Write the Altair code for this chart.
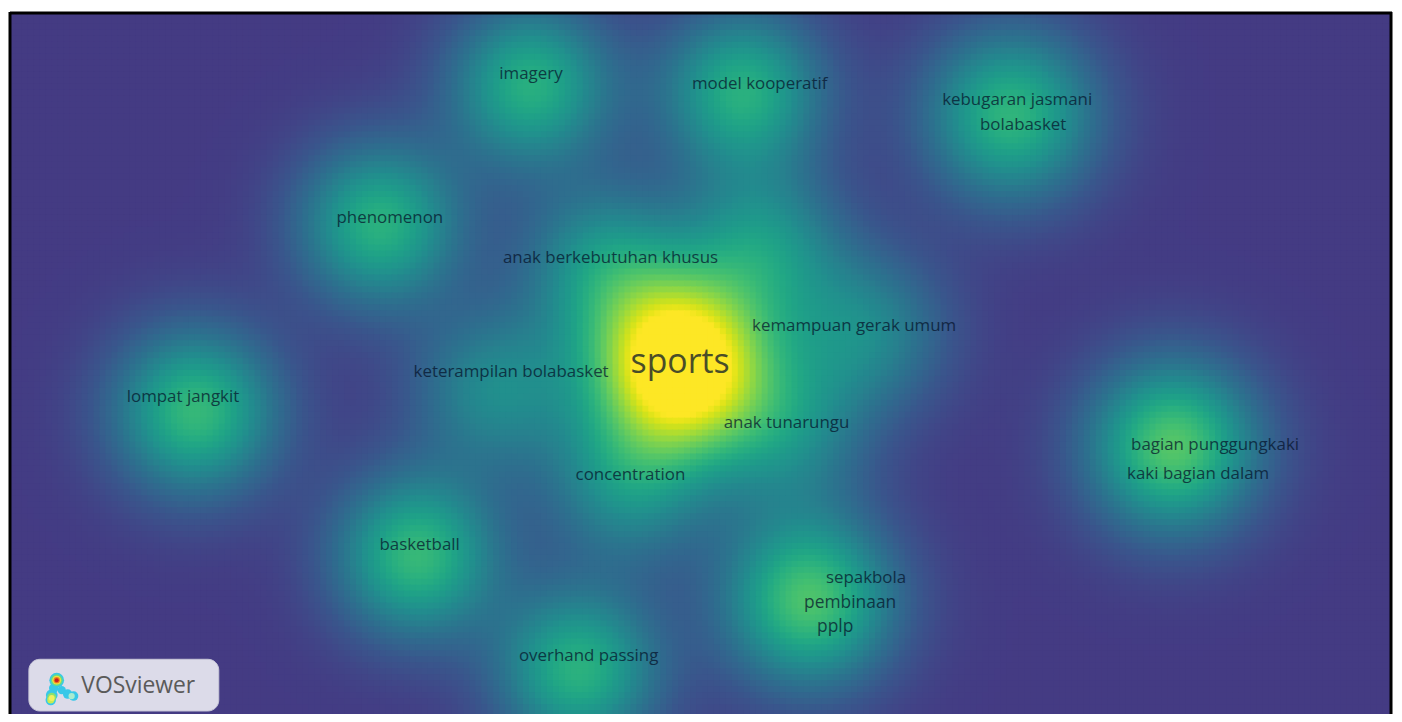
import numpy as np
import pandas as pd
import altair as alt

# ---- keyword labels (text centres) ----
labels = ["imagery", "model kooperatif", "kebugaran jasmani", "bolabasket", "phenomenon",
          "anak berkebutuhan khusus", "kemampuan gerak umum", "sports", "keterampilan bolabasket",
          "lompat jangkit", "anak tunarungu", "bagian punggungkaki", "kaki bagian dalam",
          "concentration", "basketball", "sepakbola", "pembinaan", "pplp", "overhand passing"]
label_x = [532, 762, 1021, 1027, 390, 612, 857, 682, 512, 182, 789, 1220, 1203, 632, 420, 869, 853, 838, 590]
label_y = [70, 80, 97, 122, 215, 255, 324, 361, 370, 395, 421, 444, 473, 474, 544, 577, 602, 627, 656]
label_size = [17, 17, 17, 17, 17, 17, 17, 34, 17, 17, 17, 17, 17, 17, 17, 17, 17.5, 17.5, 17]

# ---- density kernels (blob centres, weights and widths) ----
dens_x = [532, 745, 1015, 380, 605, 765, 870, 682, 495, 195, 790, 1178, 630, 417, 812, 580]
dens_y = [82, 88, 112, 222, 262, 245, 330, 363, 388, 410, 430, 445, 482, 555, 600, 670]
dens_w = [0.55, 0.55, 0.58, 0.56, 0.4, 0.4, 0.34, 1.15, 0.36, 0.6, 0.32, 0.68, 0.38, 0.6, 0.66, 0.56]
dens_s = [57, 57, 60, 57, 57, 57, 57, 62, 57, 58, 57, 60, 57, 57, 60, 57]
CELL = 6

# ---- VOSviewer logo parts ----
logo_text = ["VOSviewer"]
icon_x = [55, 52, 50, 49, 60, 66, 72, 55, 50, 49, 70, 55, 50, 55, 55]
icon_y = [680, 688, 695, 700, 690, 694, 696, 680, 697, 700, 696, 680, 698, 680, 680]
icon_size = [220, 90, 140, 110, 70, 90, 90, 140, 80, 50, 40, 80, 35, 40, 16]
icon_color = ["#38c8e8", "#38c8e8", "#38c8e8", "#38c8e8", "#38c8e8", "#38c8e8", "#38c8e8",
              "#66dd88", "#88e070", "#c8ec50", "#a8ecd0", "#f0e040", "#f0f060", "#f08020", "#c81e24"]

X0, X1, Y0, Y1 = 8, 1398, 8, 714

gx = np.arange(X0, X1, CELL, dtype=float)
gy = np.arange(Y0, Y1, CELL, dtype=float)
GX, GY = np.meshgrid(gx + CELL / 2, gy + CELL / 2)
D = np.zeros_like(GX)
for px, py, w, s in zip(dens_x, dens_y, dens_w, dens_s):
    D += w * np.exp(-((GX - px) ** 2 + (GY - py) ** 2) / (2 * s ** 2))
D = np.clip(D, 0, 1)
grid = pd.DataFrame({
    "x0": (GX - CELL / 2).ravel(),
    "x1": (GX + CELL / 2 + 1).ravel(),
    "y0": (GY - CELL / 2).ravel(),
    "y1": (GY + CELL / 2 + 1).ravel(),
    "v": np.round(D.ravel(), 3),
})

xs = alt.Scale(domain=[X0, X1], nice=False, zero=False)
ys = alt.Scale(domain=[Y0, Y1], nice=False, zero=False, reverse=True)

heat = alt.Chart(grid).mark_rect(strokeWidth=0, clip=True).encode(
    x=alt.X("x0:Q", scale=xs, axis=None),
    x2="x1:Q",
    y=alt.Y("y0:Q", scale=ys, axis=None),
    y2="y1:Q",
    color=alt.Color("v:Q", legend=None,
                    scale=alt.Scale(scheme=alt.SchemeParams(name="viridis", extent=[0.17, 1.0]),
                                    domain=[0, 1], clamp=True)),
)

lab_df = pd.DataFrame({"label": labels, "x": label_x, "y": label_y, "s": label_size})
text = alt.Chart(lab_df).mark_text(font="Open Sans", color="#05122a", opacity=0.72,
                                   align="center", baseline="middle").encode(
    x=alt.X("x:Q", scale=xs, axis=None),
    y=alt.Y("y:Q", scale=ys, axis=None),
    text="label:N",
    size=alt.Size("s:Q", scale=None, legend=None),
)

logo_box = alt.Chart(pd.DataFrame({"a": [27], "b": [218], "c": [659], "d": [711]})).mark_rect(
    fill="#dcdbe9", cornerRadius=11, stroke="#c8c7d8", strokeWidth=1).encode(
    x=alt.X("a:Q", scale=xs, axis=None), x2="b:Q",
    y=alt.Y("c:Q", scale=ys, axis=None), y2="d:Q",
)
logo_lbl = alt.Chart(pd.DataFrame({"t": logo_text, "x": [137], "y": [686]})).mark_text(
    font="Open Sans", fontSize=23, color="#5a5a5a", align="center", baseline="middle").encode(
    x=alt.X("x:Q", scale=xs, axis=None), y=alt.Y("y:Q", scale=ys, axis=None), text="t:N")
icon = alt.Chart(pd.DataFrame({"x": icon_x, "y": icon_y, "s": icon_size, "c": icon_color,
                               "o": list(range(len(icon_x)))})).mark_circle(opacity=1).encode(
    x=alt.X("x:Q", scale=xs, axis=None), y=alt.Y("y:Q", scale=ys, axis=None),
    size=alt.Size("s:Q", scale=None, legend=None),
    color=alt.Color("c:N", scale=None, legend=None),
    order=alt.Order("o:Q"),
)

border_top = alt.Chart(pd.DataFrame({"k": [0]})).mark_rule(color="#000000", strokeWidth=3).encode(
    x=alt.value(0), x2=alt.value(1390), y=alt.value(1))
border_left = alt.Chart(pd.DataFrame({"k": [0]})).mark_rule(color="#000000", strokeWidth=3).encode(
    x=alt.value(0), y=alt.value(0), y2=alt.value(706))
border_right = alt.Chart(pd.DataFrame({"k": [0]})).mark_rule(color="#000000", strokeWidth=3).encode(
    x=alt.value(1389), y=alt.value(0), y2=alt.value(706))

chart = alt.layer(heat, text, logo_box, icon, logo_lbl, border_top, border_left, border_right).properties(
    width=X1 - X0, height=Y1 - Y0, padding=0, background="#ffffff"
).configure_view(strokeWidth=0)

chart.save("out.html", embed_options={"renderer": "svg", "actions": False})
